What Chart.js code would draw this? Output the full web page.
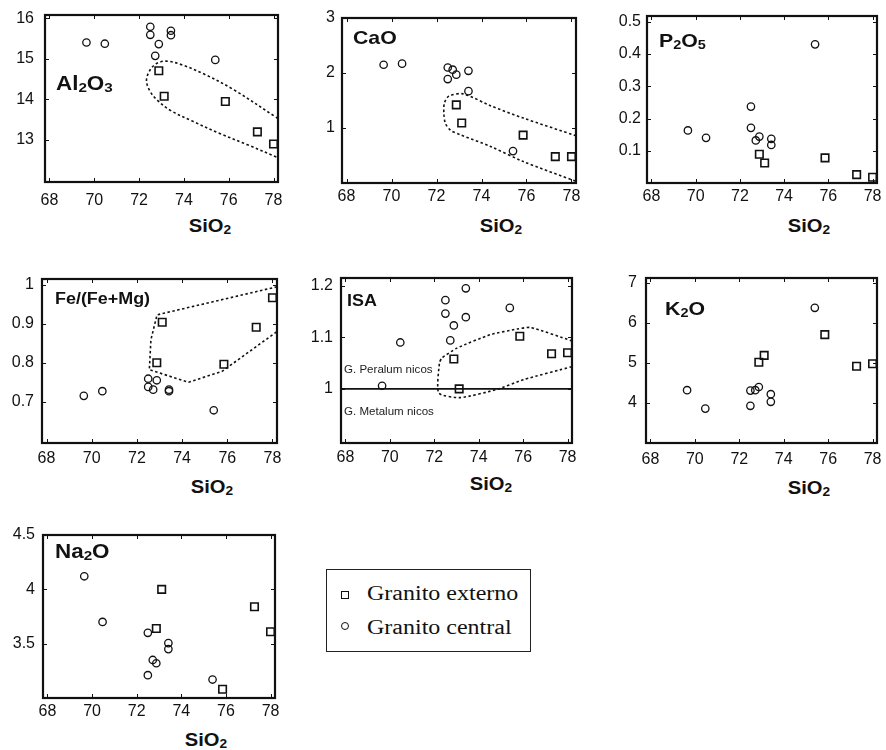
<!DOCTYPE html>
<html>
<head>
<meta charset="utf-8">
<script src="https://cdn.jsdelivr.net/npm/chart.js@4.4.1/dist/chart.umd.min.js"></script>
<style>
html,body{margin:0;padding:0;background:#fff;}
#root{position:relative;width:886px;height:750px;overflow:hidden;background:#fff;}
.pc{position:absolute;}
.lbl{position:absolute;font-family:"Liberation Sans",Arial,Helvetica,sans-serif;font-weight:bold;color:#111;white-space:nowrap;line-height:1;transform-origin:0 50%;}
.lbl sub,.ttl sub{font-size:0.68em;vertical-align:-0.14em;line-height:0;}
.ttl{position:absolute;font-family:"Liberation Sans",Arial,Helvetica,sans-serif;font-weight:bold;color:#111;white-space:nowrap;line-height:1;}
.note{position:absolute;font-family:"Liberation Sans",Arial,sans-serif;font-size:11px;color:#222;white-space:nowrap;line-height:1;transform-origin:0 50%;transform:scaleX(1.05);}
#legend{position:absolute;left:326px;top:569px;width:203px;height:81px;border:1.5px solid #222;}
.legtxt{position:absolute;font-family:"Liberation Serif","Times New Roman",serif;font-size:20px;color:#111;white-space:nowrap;line-height:1;transform-origin:0 50%;transform:scaleX(1.2);}
.mk{position:absolute;box-sizing:border-box;border:1.4px solid #111;}
</style>
</head>
<body>
<div id="root"></div>
<script>
// ---------- DATA ----------
const sio2Central = [69.65, 70.47, 72.5, 72.5, 72.72, 72.88, 73.42, 73.42, 75.4];
const sio2Externo = [72.88, 73.12, 75.85, 77.28, 78.0];
const xTickLabels = ['68', '70', '72', '74', '76', '78'];
const seriesNames = ['Granito externo', 'Granito central'];

const al2o3Central = [15.40, 15.37, 15.79, 15.59, 15.07, 15.36, 15.69, 15.58, 14.97];
const al2o3Externo = [14.70, 14.07, 13.94, 13.19, 12.89];
const al2o3TickLabels = ['13', '14', '15', '16'];
const al2o3FieldSi  = [78.2, 76.2, 74.9, 73.9, 73.2, 72.75, 72.45, 72.33, 72.48, 72.8, 73.4, 74.4, 75.6, 76.8, 78.2];
const al2o3FieldVal = [13.52, 14.24, 14.62, 14.85, 14.94, 14.87, 14.68, 14.45, 14.2, 13.98, 13.72, 13.45, 13.15, 12.88, 12.55];

const caoCentral = [2.15, 2.17, 2.10, 1.89, 2.06, 1.97, 2.04, 1.67, 0.58];
const caoExterno = [1.42, 1.09, 0.87, 0.48, 0.48];
const caoTickLabels = ['1', '2', '3'];
const caoFieldSi  = [78.2, 75.86, 74.37, 73.19, 72.55, 72.35, 72.33, 72.4, 72.62, 73.04, 74.37, 75.86, 78.2];
const caoFieldVal = [0.86, 1.18, 1.41, 1.62, 1.58, 1.45, 1.25, 1.08, 0.96, 0.88, 0.67, 0.39, 0.03];

const p2o5Central = [0.163, 0.140, 0.237, 0.171, 0.132, 0.144, 0.137, 0.118, 0.430];
const p2o5Externo = [0.089, 0.062, 0.078, 0.026, 0.018];
const p2o5TickLabels = ['0.1', '0.2', '0.3', '0.4', '0.5'];

const feCentral = [0.715, 0.727, 0.759, 0.738, 0.731, 0.755, 0.731, 0.727, 0.678];
const feExterno = [0.800, 0.904, 0.796, 0.891, 0.967];
const feTickLabels = ['0.7', '0.8', '0.9', '1'];
const feFieldSi  = [78.2, 72.89, 72.62, 72.55, 74.29, 75.77, 78.2];
const feFieldVal = [0.995, 0.923, 0.859, 0.782, 0.750, 0.778, 0.880];

const isaCentral = [1.006, 1.090, 1.172, 1.146, 1.094, 1.123, 1.195, 1.139, 1.157];
const isaExterno = [1.058, 1.000, 1.102, 1.068, 1.070];
const isaTickLabels = ['1', '1.1', '1.2'];
const isaBoundary = 1;
const isaFieldSi  = [78.2, 76.33, 75.73, 74.52, 73.02, 72.35, 72.23, 72.2, 73.17, 74.82, 76.03, 78.2];
const isaFieldVal = [1.093, 1.119, 1.116, 1.105, 1.079, 1.06, 1.05, 0.992, 0.983, 0.999, 1.018, 1.043];
const isaNotes = ['G. Peralum nicos', 'G. Metalum nicos'];

const k2oCentral = [4.32, 3.86, 4.31, 3.93, 4.32, 4.40, 4.22, 4.03, 6.38];
const k2oExterno = [5.02, 5.19, 5.71, 4.92, 4.98];
const k2oTickLabels = ['4', '5', '6', '7'];

const na2oCentral = [4.12, 3.70, 3.60, 3.21, 3.35, 3.32, 3.505, 3.45, 3.17];
const na2oExterno = [3.64, 4.00, 3.08, 3.84, 3.61];
const na2oTickLabels = ['3.5', '4', '4.5'];

// ---------- LAYOUT (positions / styles) ----------
const X_MIN = 67.8, X_MAX = 78.2;
const panels = [
  {frame:[45,15,278,182],  ymin:11.95, ymax:16.08, ticks:al2o3TickLabels, c:al2o3Central, e:al2o3Externo, fSi:al2o3FieldSi, fVal:al2o3FieldVal, tension:0.35,
   label:'Al<sub>2</sub>O<sub>3</sub>', lx:56, ly:83, lfs:20, tx:210, ty:226, xpad:9, ypad:11},
  {frame:[342,18,576,183], ymin:0, ymax:3, ticks:caoTickLabels, c:caoCentral, e:caoExterno, fSi:caoFieldSi, fVal:caoFieldVal, tension:0.3,
   label:'CaO', lx:353, ly:37, lfs:19, tx:501, ty:226, xpad:4, ypad:7},
  {frame:[647,16,877,183], ymin:0, ymax:0.518, ticks:p2o5TickLabels, c:p2o5Central, e:p2o5Externo,
   label:'P<sub>2</sub>O<sub>5</sub>', lx:659, ly:40, lfs:19, tx:809, ty:226, xpad:4, ypad:6},
  {frame:[42,279,277,443], ymin:0.594, ymax:1.015, ticks:feTickLabels, c:feCentral, e:feExterno, fSi:feFieldSi, fVal:feFieldVal, tension:0,
   label:'Fe/(Fe+Mg)', lx:55, ly:299, lfs:16, tx:212, ty:487, xpad:6, ypad:8},
  {frame:[341,278,572,443], ymin:0.895, ymax:1.215, ticks:isaTickLabels, c:isaCentral, e:isaExterno, fSi:isaFieldSi, fVal:isaFieldVal, tension:0.2, boundary:isaBoundary,
   label:'ISA', lx:347, ly:301, lfs:16, tx:491, ty:484, xpad:5, ypad:8},
  {frame:[646,278,877,443], ymin:3, ymax:7.125, ticks:k2oTickLabels, c:k2oCentral, e:k2oExterno,
   label:'K<sub>2</sub>O', lx:665, ly:308, lfs:19, tx:809, ty:488, xpad:7, ypad:9},
  {frame:[43,535,275,698], ymin:3.0, ymax:4.5, ticks:na2oTickLabels, c:na2oCentral, e:na2oExterno,
   label:'Na<sub>2</sub>O', lx:55, ly:551, lfs:20, tx:206, ty:740, xpad:4, ypad:8}
];

const INK = '#111';
const root = document.getElementById('root');

const framePlugin = {
  id: 'frame',
  afterDatasetsDraw(chart) {
    const {ctx, chartArea: a, scales} = chart;
    ctx.save();
    ctx.strokeStyle = INK;
    ctx.lineWidth = 1;
    ctx.beginPath();
    scales.x.ticks.forEach(t => {
      const px = Math.round(scales.x.getPixelForValue(t.value)) + 0.5;
      ctx.moveTo(px, a.bottom); ctx.lineTo(px, a.bottom - 4);
      ctx.moveTo(px, a.top); ctx.lineTo(px, a.top + 4);
    });
    scales.y.ticks.forEach(t => {
      const py = Math.round(scales.y.getPixelForValue(t.value)) + 0.5;
      ctx.moveTo(a.left, py); ctx.lineTo(a.left + 4, py);
      ctx.moveTo(a.right, py); ctx.lineTo(a.right - 4, py);
    });
    ctx.stroke();
    ctx.lineWidth = 2.2;
    ctx.strokeRect(a.left, a.top, a.right - a.left, a.bottom - a.top);
    ctx.restore();
  }
};

const tickFont = {family: '"Liberation Sans", Arial, sans-serif', size: 16};

panels.forEach((p, idx) => {
  const [L, T, R, B] = p.frame;
  const W = R - L + 55, H = B - T + 40;
  const holder = document.createElement('div');
  holder.className = 'pc';
  holder.style.left = (L - 45) + 'px';
  holder.style.top = (T - 10) + 'px';
  holder.style.width = W + 'px';
  holder.style.height = H + 'px';
  const cv = document.createElement('canvas');
  cv.width = W; cv.height = H;
  cv.style.width = W + 'px'; cv.style.height = H + 'px';
  holder.appendChild(cv);
  root.appendChild(holder);

  const datasets = [
    {
      label: seriesNames[1],
      data: sio2Central.map((x, i) => ({x, y: p.c[i]})),
      pointStyle: 'circle', pointRadius: 3.7, pointBorderWidth: 1.3,
      pointBackgroundColor: 'rgba(0,0,0,0)', pointBorderColor: INK, showLine: false
    },
    {
      label: seriesNames[0],
      data: sio2Externo.map((x, i) => ({x, y: p.e[i]})),
      pointStyle: 'rect', pointRadius: 5.3, pointBorderWidth: 1.6,
      pointBackgroundColor: 'rgba(0,0,0,0)', pointBorderColor: INK, showLine: false
    }
  ];
  if (p.fSi) {
    datasets.push({
      label: 'field',
      data: p.fSi.map((x, i) => ({x, y: p.fVal[i]})),
      showLine: true, pointRadius: 0, borderColor: INK, borderWidth: 1.6,
      borderDash: [2.5, 2.5], tension: p.tension, fill: false
    });
  }
  if (p.boundary !== undefined) {
    datasets.push({
      label: 'boundary',
      data: [{x: X_MIN, y: p.boundary}, {x: X_MAX, y: p.boundary}],
      showLine: true, pointRadius: 0, borderColor: INK, borderWidth: 1.6, fill: false
    });
  }

  new Chart(cv, {
    type: 'scatter',
    data: {datasets},
    options: {
      responsive: false,
      animation: false,
      devicePixelRatio: 1,
      events: [],
      layout: {padding: {left: 0, top: 10, right: 10, bottom: 0}},
      plugins: {legend: {display: false}, tooltip: {enabled: false}},
      scales: {
        x: {
          type: 'linear', position: 'bottom', min: X_MIN, max: X_MAX,
          grid: {display: false, drawTicks: false},
          border: {display: false},
          ticks: {font: tickFont, color: INK, padding: p.xpad, autoSkip: false, maxRotation: 0,
                  callback: (v, i) => xTickLabels[i]},
          afterBuildTicks: s => { s.ticks = xTickLabels.map(t => ({value: parseFloat(t)})); },
          afterFit: s => { s.height = 30; s.paddingLeft = 0; s.paddingRight = 0; s.paddingTop = 0; s.paddingBottom = 0; }
        },
        y: {
          type: 'linear', position: 'left', min: p.ymin, max: p.ymax,
          grid: {display: false, drawTicks: false},
          border: {display: false},
          ticks: {font: tickFont, color: INK, padding: p.ypad, autoSkip: false,
                  callback: (v, i) => p.ticks[i]},
          afterBuildTicks: s => { s.ticks = p.ticks.map(t => ({value: parseFloat(t)})); },
          afterFit: s => { s.width = 45; s.paddingLeft = 0; s.paddingRight = 0; s.paddingTop = 0; s.paddingBottom = 0; }
        }
      }
    },
    plugins: [framePlugin]
  });

  const lb = document.createElement('div');
  lb.className = 'lbl';
  lb.style.fontSize = p.lfs + 'px';
  lb.style.left = p.lx + 'px';
  lb.style.top = (p.ly - 0.49 * p.lfs) + 'px';
  lb.style.transform = 'scaleX(1.12)';
  lb.innerHTML = p.label;
  root.appendChild(lb);

  const tt = document.createElement('div');
  tt.className = 'ttl';
  tt.style.fontSize = '18px';
  tt.style.left = p.tx + 'px';
  tt.style.top = p.ty + 'px';
  tt.style.transform = 'translate(-50%,-50%) scaleX(1.12)';
  tt.innerHTML = 'SiO<sub>2</sub>';
  root.appendChild(tt);
});

// ISA region notes
[[isaNotes[0], 344, 369], [isaNotes[1], 344, 411]].forEach(([txt, x, y]) => {
  const d = document.createElement('div');
  d.className = 'note';
  d.style.left = x + 'px';
  d.style.top = (y - 5.5) + 'px';
  d.textContent = txt;
  root.appendChild(d);
});

// Legend
const leg = document.createElement('div');
leg.id = 'legend';
root.appendChild(leg);
const sq = document.createElement('div');
sq.className = 'mk';
Object.assign(sq.style, {left: '341px', top: '591px', width: '8px', height: '8px'});
root.appendChild(sq);
const ci = document.createElement('div');
ci.className = 'mk';
Object.assign(ci.style, {left: '341px', top: '622px', width: '8px', height: '8px', borderRadius: '50%'});
root.appendChild(ci);
[[seriesNames[0], 367, 583.4], [seriesNames[1], 367, 617.4]].forEach(([txt, x, y]) => {
  const d = document.createElement('div');
  d.className = 'legtxt';
  d.style.left = x + 'px';
  d.style.top = y + 'px';
  d.textContent = txt;
  root.appendChild(d);
});
</script>
</body>
</html>
